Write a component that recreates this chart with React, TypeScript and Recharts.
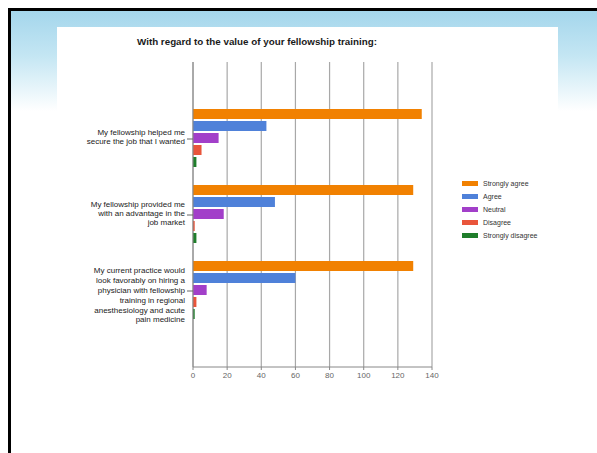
import { BarChart, Bar, XAxis, YAxis, CartesianGrid, Legend } from "recharts";

const categories = [
  "My fellowship helped me\nsecure the job that I wanted",
  "My fellowship provided me\nwith an advantage in the\njob market",
  "My current practice would\nlook favorably on hiring a\nphysician with fellowship\ntraining in regional\nanesthesiology and acute\npain medicine",
];
const stronglyAgree = [134, 129, 129];
const agree = [43, 48, 60];
const neutral = [15, 18, 8];
const disagree = [5, 1, 2];
const stronglyDisagree = [2, 2, 1];
const xTicks = [0, 20, 40, 60, 80, 100, 120, 140];

const series = [
  { key: "sa", name: "Strongly agree", color: "#f18101", values: stronglyAgree },
  { key: "a", name: "Agree", color: "#4f81d9", values: agree },
  { key: "n", name: "Neutral", color: "#a23fc9", values: neutral },
  { key: "d", name: "Disagree", color: "#e9553b", values: disagree },
  { key: "sd", name: "Strongly disagree", color: "#1f7e2b", values: stronglyDisagree },
];

const data = categories.map((label, i) => {
  const row: Record<string, string | number> = { label };
  series.forEach((s) => (row[s.key] = s.values[i]));
  return row;
});

const FONT = "'Liberation Sans', Arial, sans-serif";

function CategoryTick(props: any) {
  const { x, y, payload } = props;
  const lines = String(payload.value).split("\n");
  const lh = lines.length > 3 ? 9.8 : 8.8;
  const start = -((lines.length - 1) * lh) / 2 + (lines.length > 3 ? 4 : -2);
  return (
    <text x={x} y={y} textAnchor="end" fontSize={8} fontFamily={FONT} fill="#1a1a1a">
      {lines.map((ln, i) => (
        <tspan key={i} x={x} y={y + start + i * lh} dy="0.35em">
          {ln}
        </tspan>
      ))}
    </text>
  );
}

// keep the legend in series order, not alphabetical
function LegendBox(props: any) {
  const items = (props.payload || [])
    .slice()
    .sort(
      (p: any, q: any) =>
        series.findIndex((s) => s.name === p.value) - series.findIndex((s) => s.name === q.value)
    );
  return (
    <div style={{ fontFamily: FONT, fontSize: 7, color: "#333" }}>
      {items.map((it: any) => (
        <div key={it.value} style={{ display: "flex", alignItems: "center", height: 13 }}>
          <span style={{ display: "inline-block", width: 16, height: 5, background: it.color, marginRight: 5 }} />
          {it.value}
        </div>
      ))}
    </div>
  );
}

export default function App() {
  return (
    <div style={{ position: "absolute", left: 0, top: 0, width: 597, height: 453, background: "#fff", overflow: "hidden" }}>
      <div
        style={{
          position: "absolute",
          left: 8,
          top: 8,
          right: 0,
          bottom: 0,
          borderTop: "3px solid #000",
          borderLeft: "3px solid #000",
          background: "linear-gradient(to bottom, #a4d6ec 0px, #c4e6f3 45px, #ffffff 100px, #ffffff 100%)",
        }}
      />
      <div style={{ position: "absolute", left: 57, top: 27, width: 501, height: 410, background: "#fff" }}>
        <div
          style={{
            position: "absolute",
            top: 9,
            left: 0,
            width: 400,
            textAlign: "center",
            fontFamily: FONT,
            fontWeight: "bold",
            fontSize: 9.8,
            color: "#1a1a1a",
          }}
        >
          With regard to the value of your fellowship training:
        </div>
        <BarChart
          width={501}
          height={400}
          data={data}
          layout="vertical"
          margin={{ top: 35, right: 126, left: 0, bottom: 0 }}
          barCategoryGap={8}
          barGap={2}
        >
          <CartesianGrid horizontal={false} stroke="#a8a8a8" strokeWidth={1.2} />
          <XAxis
            type="number"
            domain={[0, 140]}
            ticks={xTicks}
            interval={0}
            height={60}
            axisLine={{ stroke: "#888" }}
            tickLine={{ stroke: "#888" }}
            tickSize={3}
            tick={{ fontSize: 8, fill: "#666", fontFamily: FONT }}
          />
          <YAxis
            type="category"
            dataKey="label"
            width={136}
            padding={{ top: 39, bottom: 38 }}
            axisLine={{ stroke: "#888" }}
            tickLine={{ stroke: "#666" }}
            tickSize={6}
            tickMargin={2}
            tick={<CategoryTick />}
            interval={0}
          />
          <Legend
            layout="horizontal"
            verticalAlign="middle"
            align="center"
            content={<LegendBox />}
            wrapperStyle={{ left: 405, top: 150, width: 90 }}
          />
          {series.map((s) => (
            <Bar key={s.key} dataKey={s.key} name={s.name} fill={s.color} isAnimationActive={false} />
          ))}
        </BarChart>
      </div>
    </div>
  );
}
